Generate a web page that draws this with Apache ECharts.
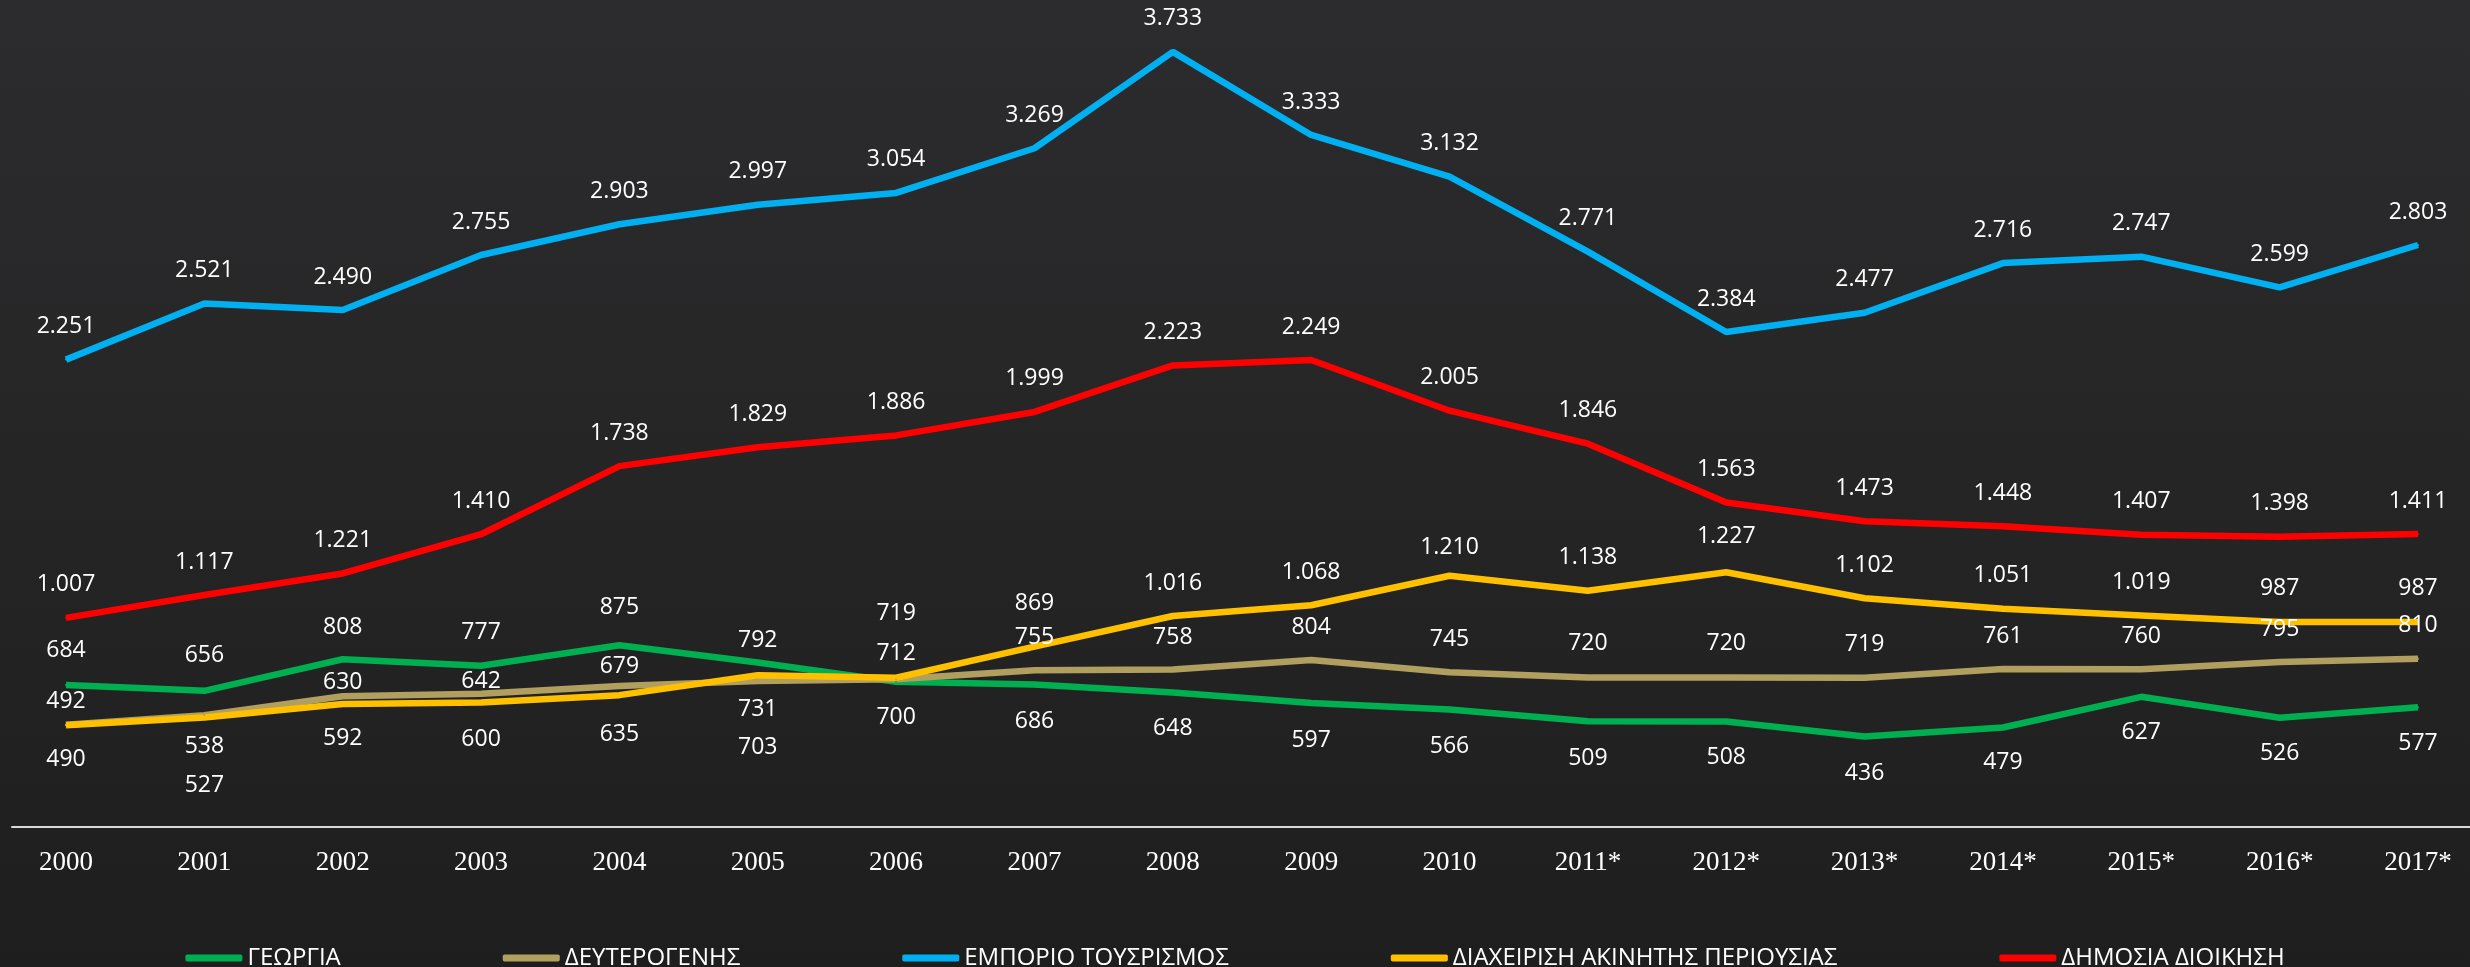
<!DOCTYPE html>
<html>
<head>
<meta charset="utf-8">
<script src="https://cdn.jsdelivr.net/npm/echarts@6/dist/echarts.min.js"></script>
<style>
  html, body { margin: 0; padding: 0; background: #222; }
  #main { width: 2470px; height: 967px; }
</style>
</head>
<body>
<div id="main"></div>
<script>
var years = ['2000', '2001', '2002', '2003', '2004', '2005', '2006', '2007', '2008', '2009', '2010',
  '2011*', '2012*', '2013*', '2014*', '2015*', '2016*', '2017*'];

var georgia = [684, 656, 808, 777, 875, 792, 700, 686, 648, 597, 566, 509, 508, 436, 479, 627, 526, 577];
var deuterogenis = [492, 538, 630, 642, 679, 703, 712, 755, 758, 804, 745, 720, 720, 719, 761, 760, 795, 810];
var emporio = [2251, 2521, 2490, 2755, 2903, 2997, 3054, 3269, 3733, 3333, 3132, 2771, 2384, 2477, 2716, 2747, 2599, 2803];
var diaxeirisi = [490, 527, 592, 600, 635, 731, 719, 869, 1016, 1068, 1210, 1138, 1227, 1102, 1051, 1019, 987, 987];
var dimosia = [1007, 1117, 1221, 1410, 1738, 1829, 1886, 1999, 2223, 2249, 2005, 1846, 1563, 1473, 1448, 1407, 1398, 1411];

// vertical shift of each value label from its point (px), as placed in the original
var shiftGeorgia = [-35, -35, -32, -33, -38, -22, 36, 37, 36, 37, 37, 37, 36, 37, 35, 36, 36, 36];
var shiftDeuter = [-23, 31, -14, -12, -20, 66, -26, -33, -32, -33, -33, -34, -34, -33, -33, -33, -32, -33];
var shiftDiax = [34, 68, 34, 37, 39, 34, -64, -43, -33, -33, -28, -33, -36, -33, -33, -33, -34, -34];

function fmt(v) {
  if (v < 1000) return String(v);
  return Math.floor(v / 1000) + '.' + String(v % 1000).padStart(3, '0');
}

function line(name, values, color, shifts) {
  return {
    name: name,
    type: 'line',
    data: values.map(function (v, i) {
      return { value: v, label: { offset: [0, shifts ? shifts[i] : -33] } };
    }),
    symbol: 'circle',
    symbolSize: 2,
    itemStyle: { color: color },
    lineStyle: { color: color, width: 6.5 },
    label: {
      show: true,
      position: 'inside',
      formatter: function (p) { return fmt(p.value); },
      color: '#ffffff',
      fontFamily: 'Open Sans',
      fontSize: 23,
      textBorderWidth: 0
    }
  };
}

var myChart = echarts.init(document.getElementById('main'));
var option = {
  animation: false,
  backgroundColor: {
    type: 'linear', x: 0, y: 0, x2: 0, y2: 1,
    colorStops: [{ offset: 0, color: '#2c2c2e' }, { offset: 1, color: '#1e1e1e' }]
  },
  grid: [
    { left: 66, right: 52, top: 38, bottom: 140 },
    { left: 12, right: 0, top: 38, bottom: 140 }
  ],
  xAxis: [
    {
      type: 'category',
      data: years,
      boundaryGap: false,
      axisLine: { show: false },
      axisTick: { show: false },
      axisLabel: {
        color: '#ffffff',
        fontFamily: 'Liberation Serif',
        fontSize: 27,
        margin: 22
      }
    },
    {
      gridIndex: 1,
      type: 'category',
      data: [''],
      axisLine: { show: true, onZero: false, lineStyle: { color: '#d9d9d9', width: 2 } },
      axisTick: { show: false },
      axisLabel: { show: false }
    }
  ],
  yAxis: [
    { type: 'value', min: 0, max: 3800, show: false },
    { gridIndex: 1, type: 'value', min: 0, max: 3800, show: false }
  ],
  legend: {
    left: 'center',
    top: 941,
    icon: 'roundRect',
    itemWidth: 57,
    itemHeight: 7,
    itemGap: 162,
    textStyle: { color: '#ffffff', fontFamily: 'Open Sans', fontSize: 24 },
    data: ['ΓΕΩΡΓΙΑ', 'ΔΕΥΤΕΡΟΓΕΝΗΣ', 'ΕΜΠΟΡΙΟ ΤΟΥΣΡΙΣΜΟΣ', 'ΔΙΑΧΕΙΡΙΣΗ ΑΚΙΝΗΤΗΣ ΠΕΡΙΟΥΣΙΑΣ', 'ΔΗΜΟΣΙΑ ΔΙΟΙΚΗΣΗ']
  },
  series: [
    line('ΓΕΩΡΓΙΑ', georgia, '#00b050', shiftGeorgia),
    line('ΔΕΥΤΕΡΟΓΕΝΗΣ', deuterogenis, '#b09f5e', shiftDeuter),
    line('ΕΜΠΟΡΙΟ ΤΟΥΣΡΙΣΜΟΣ', emporio, '#00b0f0', null),
    line('ΔΙΑΧΕΙΡΙΣΗ ΑΚΙΝΗΤΗΣ ΠΕΡΙΟΥΣΙΑΣ', diaxeirisi, '#ffc000', shiftDiax),
    line('ΔΗΜΟΣΙΑ ΔΙΟΙΚΗΣΗ', dimosia, '#ff0000', null)
  ]
};
myChart.setOption(option);
</script>
</body>
</html>
